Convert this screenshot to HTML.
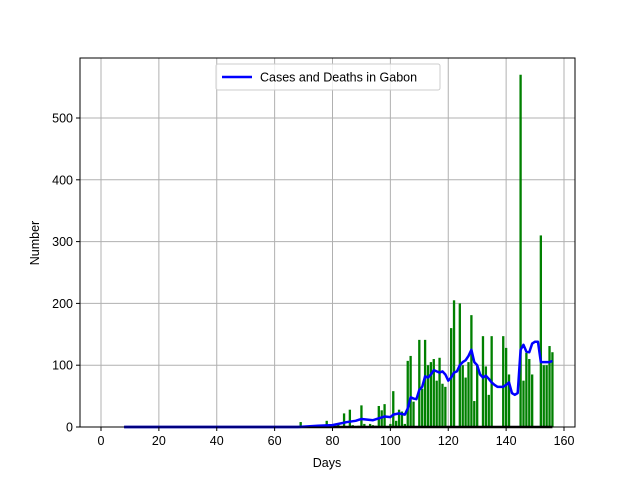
<!DOCTYPE html>
<html><head><meta charset="utf-8"><style>
body{margin:0;background:#fff}
svg text{font-family:"Liberation Sans","DejaVu Sans",sans-serif;font-size:12.5px;fill:#000}
</style></head><body>
<svg id="chart" width="640" height="480" xmlns="http://www.w3.org/2000/svg">
<g id="grid"></g>
<g id="bars"></g>
<g id="lines"></g>
<g id="axes"></g>
<g>
<rect x="216" y="64" width="224" height="26" fill="#fff" fill-opacity="0.8" stroke="#ccc" rx="2"/>
<line x1="222" y1="77" x2="252" y2="77" stroke="#0000ff" stroke-width="2.5"/>
<text x="260" y="81.5">Cases and Deaths in Gabon</text>
</g>
<text x="327" y="467" text-anchor="middle">Days</text>
<text x="0" y="0" transform="translate(39,243) rotate(-90)" text-anchor="middle">Number</text>
</svg>
<script>
const startDay = 9;
const caseValues = [
0,0,0,0,0,0,0,0,0,0,0,0,0,0,0,0,0,0,0,0,0,0,0,0,0,0,0,0,0,0,0,0,0,0,0,0,0,0,0,0,0,0,0,0,0,0,0,0,0,0,0,0,0,0,0,0,0,1,0,0,
8,0,0,1,0,1,2,3,0,10,0,1,2,5,0,22,0,28,3,0,2,35,5,0,5,3,2,34,27,37,0,5,58,10,28,25,5,107,115,41,0,
141,62,141,100,105,110,75,112,70,65,0,160,205,0,200,100,80,105,181,42,100,0,147,98,52,147,0,0,0,147,128,85,0,0,0,570,75,120,110,85,0,0,310,100,100,131,121];
const lineDays = [8,68,75,80,85,88,90,92,94,96,98,100,101,103,105,106,107,108,109,110,111,112,113,114,115,116,117,118,119,120,121,122,123,124,125,126,127,128,129,130,131,132,133,134,135,136,137,138,139,140,141,142,143,144,145,146,147,148,149,150,151,152,153,154,155,156];
const lineValues = [0,0,2,3,8,10,13,12,11,14,17,16,20,22,20,30,48,46,45,60,65,82,80,85,92,90,88,90,85,75,80,88,90,100,105,108,115,125,105,100,85,80,83,78,72,68,65,65,65,68,72,55,52,55,125,133,122,121,135,138,138,105,105,105,105,107];
const xTicks = [0,20,40,60,80,100,120,140,160];
const yTicks = [0,100,200,300,400,500];

const L=80,R=575,T=58,B=427;
const X=d=>101+d*463/160;
const Y=v=>427-v*309/500;
const NS="http://www.w3.org/2000/svg";
function mk(tag,attrs,parent){const e=document.createElementNS(NS,tag);for(const k in attrs)e.setAttribute(k,attrs[k]);parent.appendChild(e);return e;}
const grid=document.getElementById('grid'),bars=document.getElementById('bars'),lines=document.getElementById('lines'),axes=document.getElementById('axes');
xTicks.forEach(t=>{
 const g=mk('line',{x1:X(t),x2:X(t),y1:T,y2:B,stroke:'#b0b0b0','stroke-width':1},grid);
 
 
 const tk=mk('line',{x1:X(t),x2:X(t),y1:B,y2:B+4,stroke:'#000'},axes);
 
 
 const tx=mk('text',{x:X(t),y:B+18,'text-anchor':'middle'},axes);tx.textContent=t;
 
 
});
yTicks.forEach(t=>{
 const g=mk('line',{x1:L,x2:R,y1:Y(t),y2:Y(t),stroke:'#b0b0b0','stroke-width':1},grid);
 
 
 const tk=mk('line',{x1:L-4,x2:L,y1:Y(t),y2:Y(t),stroke:'#000'},axes);
 
 
 const tx=mk('text',{x:L-7,y:Y(t)+4.5,'text-anchor':'end'},axes);tx.textContent=t;
 
 
});
const bw=0.8*463/160;
caseValues.forEach((v,i)=>{
 const d=startDay+i;
 if(v<=0)return;
 const r=mk('rect',{x:X(d)-bw/2,y:Y(v),width:bw,height:Y(0)-Y(v),fill:'#008000'},bars);
 
 
});
const z=mk('line',{x1:X(8),x2:X(156),y1:Y(0),y2:Y(0),stroke:'#000','stroke-width':2.5},lines);


const pl=mk('polyline',{points:lineDays.map((d,i)=>X(d)+','+Y(lineValues[i])).join(' '),fill:'none',stroke:'#0000ff','stroke-width':2.5,'stroke-linejoin':'round'},lines);


const fr=mk('rect',{x:L,y:T,width:R-L,height:B-T,fill:'none',stroke:'#000','stroke-width':1},axes);


</script>
</body></html>
